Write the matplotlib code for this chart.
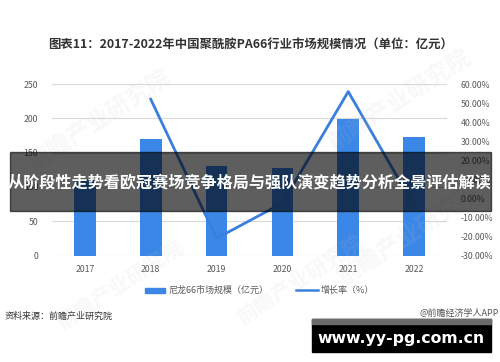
import matplotlib
matplotlib.use("Agg")
import matplotlib.pyplot as plt
from matplotlib.patches import Rectangle
from matplotlib.ticker import FuncFormatter, MultipleLocator
import numpy as np

plt.rcParams['font.family'] = ['Noto Sans CJK SC', 'DejaVu Sans']

years = ["2017", "2018", "2019", "2020", "2021", "2022"]
market_size = [112, 170, 130, 128, 199, 173]
growth_rate = [None, 52.0, -21.0, -2.5, 56.0, -4.0]

title = "图表11：2017-2022年中国聚酰胺PA66行业市场规模情况（单位：亿元）"
bar_label = "尼龙66市场规模（亿元）"
line_label = "增长率（%）"
source = "资料来源：前瞻产业研究院"
credit = "@前瞻经济学人APP"
banner = "从阶段性走势看欧冠赛场竞争格局与强队演变趋势分析全景评估解读"
site = "www.yy-pg.com.cn"

bar_color = "#3a87e8"
line_color = "#3a7fdd"
tick_color = "#595959"

W, H = 500, 362
fig = plt.figure(figsize=(W / 100, H / 100), dpi=100)
ax = fig.add_axes([52 / W, 1 - 255.5 / H, (447 - 52) / W, (255.5 - 84) / H])
ax2 = ax.twinx()

x = np.arange(len(years))
ax.bar(x, market_size, width=0.33, color=bar_color, zorder=2)
ax.set_xlim(-0.5, len(years) - 0.5)
ax.set_ylim(0, 250)
ax.yaxis.set_major_locator(MultipleLocator(50))
ax.grid(axis='y', color='#d9d9d9', linewidth=0.8, zorder=0)
ax.set_axisbelow(True)
ax.set_xticks(x)
ax.set_xticklabels(years)
for a in (ax, ax2):
    for s in a.spines.values():
        s.set_visible(False)
ax.tick_params(axis='both', length=0, labelsize=6.3, colors=tick_color)
ax.tick_params(axis='x', pad=7)
ax.tick_params(axis='y', pad=10)

gx = [i for i, g in enumerate(growth_rate) if g is not None]
gy = [g for g in growth_rate if g is not None]
ax2.plot(gx, gy, color=line_color, linewidth=2, zorder=3)
ax2.set_ylim(-30, 60)
ax2.yaxis.set_major_locator(MultipleLocator(10))
ax2.yaxis.set_major_formatter(FuncFormatter(lambda v, p: f"{v:.2f}%"))
ax2.tick_params(axis='y', length=0, labelsize=6.3, colors=tick_color, pad=10)

# title
fig.text(251 / W, 1 - 45 / H, title, ha='center', va='center', fontsize=8.9,
         fontweight='bold', color='#333333')

# legend (manual)
fig.patches.append(Rectangle((145 / W, 1 - 293 / H), 20 / W, 5 / H,
                             transform=fig.transFigure, color=bar_color))
fig.text(168 / W, 1 - 290 / H, bar_label, ha='left', va='center', fontsize=6.5, color=tick_color)
fig.lines.append(plt.Line2D([296 / W, 318 / W], [1 - 290 / H, 1 - 290 / H],
                            transform=fig.transFigure, color=line_color, linewidth=1.8))
fig.text(321 / W, 1 - 290 / H, line_label, ha='left', va='center', fontsize=6.5, color=tick_color)

# footer
fig.text(5 / W, 1 - 316 / H, source, ha='left', va='center', fontsize=6.5, color='#333333')
fig.text(499 / W, 1 - 313 / H, credit, ha='right', va='center', fontsize=6.5, color='#555555')

# watermarks
for (wx, wy, fs) in [(100, 120, 17), (400, 100, 17), (410, 235, 17), (120, 285, 15), (300, 280, 15)]:
    fig.text(wx / W, 1 - wy / H, "前瞻产业研究院", ha='center', va='center', fontsize=fs,
             rotation=33, color='#c8c8c8', alpha=0.12, fontweight='bold', zorder=5)

# dark banner
fig.patches.append(Rectangle((10 / W, 1 - 211 / H), 481 / W, 59 / H,
                             transform=fig.transFigure, color='black', alpha=0.63, zorder=10))
fig.text(250 / W, 1 - 182 / H, banner, ha='center', va='center', fontsize=11.6,
         fontweight='bold', color='white', zorder=11)

# site box
fig.patches.append(Rectangle((312 / W, 1 - 352 / H), 179 / W, 33 / H,
                             transform=fig.transFigure, color='black', zorder=10))
fig.patches.append(Rectangle((312 / W, 1 - 324 / H), 179 / W, 5 / H,
                             transform=fig.transFigure, color='#6b6b6b', zorder=11))
fig.text(401 / W, 1 - 339 / H, site, ha='center', va='center', fontsize=11.3,
         fontweight='bold', color='white', family=['DejaVu Sans'], zorder=12)

fig.savefig("out.png", dpi=100)
